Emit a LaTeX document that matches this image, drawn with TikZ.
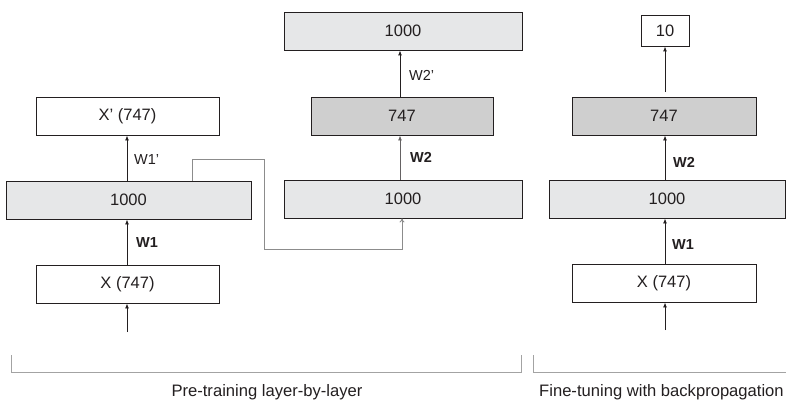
\documentclass[tikz,border=0pt]{standalone}
\usepackage{fontspec}
\setmainfont{Liberation Sans}
\usetikzlibrary{arrows.meta}
\definecolor{lightfill}{HTML}{E6E7E8}
\definecolor{darkfill}{HTML}{CFCFCF}
\definecolor{ink}{HTML}{231F20}
\definecolor{linkgray}{HTML}{8C8C8C}
\begin{document}
\begin{tikzpicture}[x=1pt,y=-1pt,
  layer/.style={draw=ink,line width=0.9pt,minimum height=38pt,inner sep=0pt,
    text=ink,font=\fontsize{16.5}{19}\selectfont},
  plain/.style={layer,fill=white},
  light/.style={layer,fill=lightfill},
  dark/.style={layer,fill=darkfill},
  flow/.style={draw=ink,line width=0.9pt,-{Latex[length=5pt,width=4pt]}},
  link/.style={draw=linkgray,line width=0.9pt,-{To[length=4pt,width=5pt]}},
  wlab/.style={anchor=west,text=ink,font=\fontsize{14.5}{16}\selectfont,inner sep=0pt},
  brace/.style={draw=linkgray!80,line width=0.9pt},
  caption/.style={text=ink,font=\fontsize{16.6}{19}\selectfont,inner sep=0pt}]
\useasboundingbox (0,0) rectangle (786,404);

% ---------- left column ----------
\node[plain,minimum width=183pt] (xp) at (127.5,116) {X' (747)};
\node[light,minimum width=245pt] (h1) at (128.5,200) {1000};
\node[plain,minimum width=183pt] (x1) at (127.5,284) {X (747)};
\coordinate (in1) at (127,332);
\draw[flow] (h1.north -| 127,0) -- (xp.south -| 127,0);
\draw[flow] (x1.north -| 127,0) -- (h1.south -| 127,0);
\draw[flow] (in1) -- (in1 |- x1.south);
\node[wlab] (w1p) at (134,160) {W1'};
\node[wlab] (w1) at (136,243) {\bfseries W1};

% ---------- middle column ----------
\node[light,minimum width=238pt] (m3) at (403,31) {1000};
\node[dark,minimum width=182pt] (m2) at (402,116) {747};
\node[light,minimum width=238pt] (m1) at (403,199) {1000};
\draw[flow] (m2.north -| 400,0) -- (m3.south -| 400,0);
\draw[flow,draw=ink!70] (m1.north -| 400,0) -- (m2.south -| 400,0);
\node[wlab] (w2p) at (409,75) {W2'};
\node[wlab] (w2) at (410,157) {\bfseries W2};

% connector from first hidden layer to second stage input
\coordinate (ca) at (192,159);
\coordinate (cb) at (264,249);
\coordinate (cc) at (402,249);
\draw[link] (h1.north -| ca) -- (ca) -| (cb) -- (cc) -- (cc |- m1.south);

% ---------- right column ----------
\node[plain,minimum width=48pt,minimum height=31pt] (r4) at (665,30.5) {10};
\node[dark,minimum width=184pt] (r3) at (664,116) {747};
\node[light,minimum width=236pt] (r2) at (667,199) {1000};
\node[plain,minimum width=184pt] (r1) at (664,283) {X (747)};
\coordinate (in2) at (665,330);
\coordinate (out2) at (665,92);
\draw[flow] (out2) -- (out2 |- r4.south);
\draw[flow] (r2.north -| 665,0) -- (r3.south -| 665,0);
\draw[flow] (r1.north -| 665,0) -- (r2.south -| 665,0);
\draw[flow] (in2) -- (in2 |- r1.south);
\node[wlab] (rw2) at (673,162) {\bfseries W2};
\node[wlab] (rw1) at (672,245) {\bfseries W1};

% ---------- brackets and captions ----------
\draw[brace] (11,355) -- (11,372) -- (521,372) -- (521,355);
\draw[brace] (533,355) -- (533,372) -- (786,372);
\node[caption] (cap1) at (267,392) {Pre-training layer-by-layer};
\node[caption,anchor=west] (cap2) at (539,392) {Fine-tuning with backpropagation};
\end{tikzpicture}
\end{document}
